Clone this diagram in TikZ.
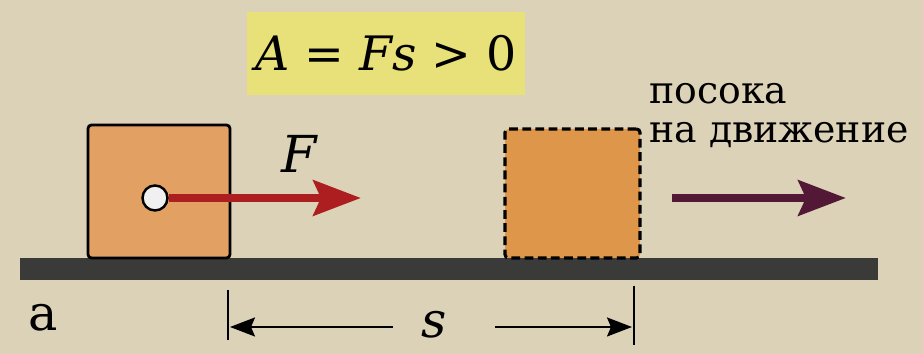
\documentclass[tikz,border=0pt]{standalone}
\usepackage{fontspec}
\setmainfont{DejaVu Serif}
\usetikzlibrary{positioning}
\usetikzlibrary{arrows.meta}
\definecolor{paper}{RGB}{220,210,184}
\definecolor{hilite}{RGB}{232,224,120}
\definecolor{boxorange}{RGB}{226,160,98}
\definecolor{ghostorange}{RGB}{222,150,74}
\definecolor{groundgray}{RGB}{58,58,56}
\definecolor{forcered}{RGB}{172,30,32}
\definecolor{dirpurple}{RGB}{82,24,54}

\tikzset{
  block/.style={draw=black,line width=1.6pt,fill=boxorange,rounded corners=2pt,
    minimum width=2.84cm,minimum height=2.66cm,inner sep=0pt},
  ghostblock/.style={draw=black,line width=1.8pt,dash pattern=on 5pt off 2.5pt,
    fill=ghostorange,rounded corners=2pt,minimum width=2.7cm,minimum height=2.58cm,inner sep=0pt},
  bigarrow/.style={line width=5pt,-{Stealth[length=0.95cm,width=0.7cm,inset=0.15cm]}},
  dimarrow/.style={line width=1.1pt,-{Stealth[length=0.5cm,width=0.38cm,inset=0.08cm]}},
  tick/.style={line width=1.1pt},
  dirtext/.style={anchor=base west,inner sep=0pt,
    font=\fontsize{21.5}{24}\selectfont}
}

\begin{document}
\begin{tikzpicture}
        \fill[paper] (0,0) rectangle (18.46,7.08);
        \useasboundingbox (0,0) rectangle (18.46,7.08);

        % ground
        \fill[groundgray] (0.4,1.48) rectangle (17.56,1.92);

        % formula
        \node[fill=hilite,minimum width=5.56cm,minimum height=1.66cm,
          font=\fontsize{27}{32}\selectfont] (formula) at (7.72,6.01)
          {\textit{A} = \textit{Fs} > 0};

        % blocks
        \node[block] (block) at (3.18,3.25) {};
        \node[ghostblock] (ghost) at (11.45,3.21) {};

        % force
        \node[circle,draw=black,line width=1.4pt,fill=white!88!gray,
          minimum size=0.5cm,inner sep=0pt] (dot) at (3.1,3.12) {};
        \coordinate (fend) at (7.22,3.12);
        \draw[bigarrow,forcered] (dot) -- (fend);
        \node[font=\fontsize{29}{34}\selectfont\itshape] (flabel) at (5.98,4.0) {F};

        % direction
        \node[dirtext] (dirtop) at (12.98,5.0) {посока};
        \node[dirtext] (dirbot) at (12.98,4.22) {на движение};
        \coordinate (dirstart) at (13.44,3.12);
        \coordinate (dirend) at (16.92,3.12);
        \draw[bigarrow,dirpurple] (dirstart) -- (dirend);

        % distance
        \node[font=\fontsize{28}{32}\selectfont] (alabel) at (0.86,0.72) {a};
        \coordinate (ltop) at (4.56,1.28);
        \coordinate (lbot) at (4.56,0.28);
        \coordinate (rtop) at (12.68,1.36);
        \coordinate (rbot) at (12.68,0.18);
        \draw[tick] (ltop) -- (lbot);
        \draw[tick] (rtop) -- (rbot);
        \node[font=\fontsize{28}{32}\selectfont\itshape] (slabel) at (8.68,0.58) {s};
        \coordinate (lstart) at (7.86,0.54);
        \coordinate (lend) at (4.6,0.54);
        \coordinate (rstart) at (9.9,0.54);
        \coordinate (rend) at (12.64,0.54);
        \draw[dimarrow] (lstart) -- (lend);
        \draw[dimarrow] (rstart) -- (rend);
      \end{tikzpicture}
\end{document}
